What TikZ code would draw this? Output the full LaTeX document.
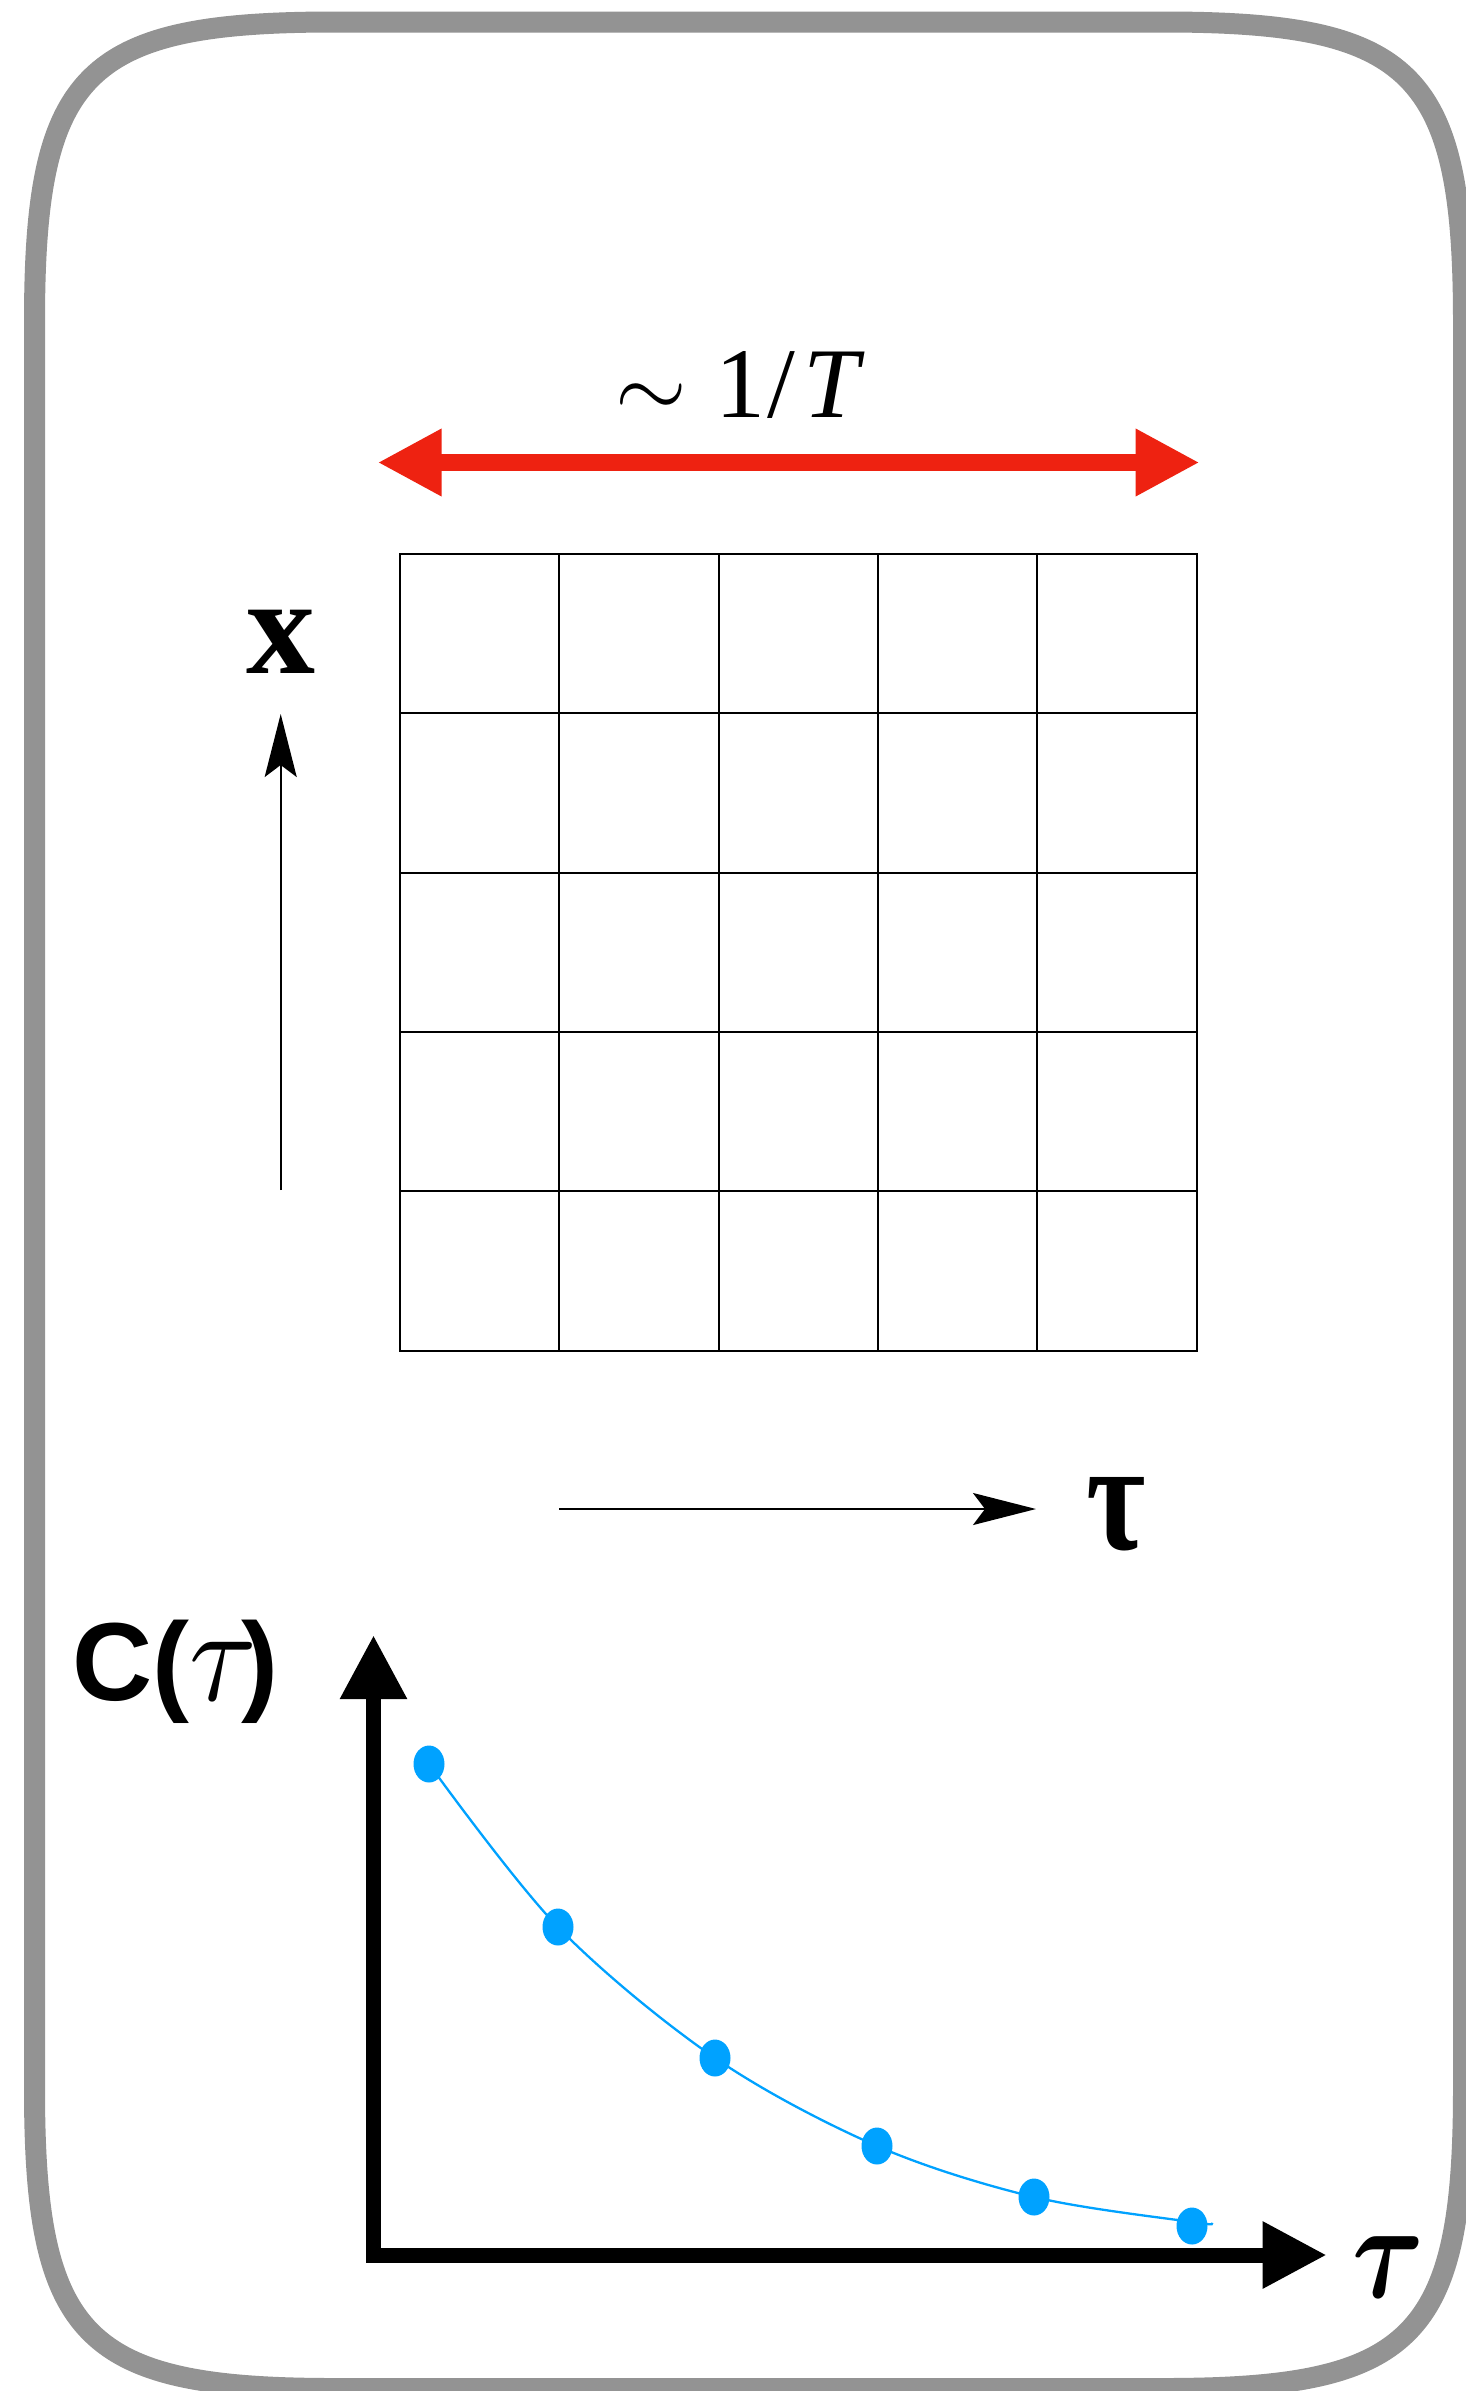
\documentclass[tikz,border=0pt]{standalone}
\usepackage{fontspec}
\setmainfont{Liberation Serif}
\newfontfamily\sansfam{Liberation Sans}
\usepackage{graphicx}
\usepackage{bm}
\usetikzlibrary{arrows.meta}
\definecolor{framegray}{HTML}{939393}
\definecolor{curveblue}{HTML}{00A2FF}
\definecolor{arrowred}{HTML}{EE2211}
\newcommand{\bigmath}[3]{\scalebox{#1}[#2]{\fontsize{10pt}{12pt}\selectfont$#3$}}
\begin{document}
\begin{tikzpicture}[x=1pt,y=-1pt,
  gridline/.style={line width=2pt, black, line cap=rect},
  thinarrow/.style={line width=2.2pt, black, -{Stealth[length=63pt,width=32pt,inset=12pt]}},
  axisline/.style={line width=15pt, black, -{Triangle[length=64pt,width=63pt]}},
  redarrow/.style={line width=16.4pt, arrowred, {Triangle[length=64pt,width=63pt]}-{Triangle[length=64pt,width=63pt]}},
  framebox/.style={line width=21pt, framegray},
  datadot/.style={fill=curveblue},
  lbl/.style={inner sep=0pt, outer sep=0pt}]
\useasboundingbox (0,0) rectangle (1466,2391);
\fill[white] (0,0) rectangle (1466,2391);
% frame
\def\Lf{34.5}\def\Tp{22}\def\Rt{1463.5}\def\Bt{2388.5}
\draw[framebox] (\Lf,\Tp+300) .. controls (\Lf,\Tp+50) and (\Lf+50,\Tp) .. (\Lf+300,\Tp)
  -- (\Rt-300,\Tp) .. controls (\Rt-50,\Tp) and (\Rt,\Tp+50) .. (\Rt,\Tp+300)
  -- (\Rt,\Bt-300) .. controls (\Rt,\Bt-50) and (\Rt-50,\Bt) .. (\Rt-300,\Bt)
  -- (\Lf+300,\Bt) .. controls (\Lf+50,\Bt) and (\Lf,\Bt-50) .. (\Lf,\Bt-300) -- cycle;
% red arrow and label
\coordinate (ra) at (377.6,462.5);
\coordinate (rb) at (1199.6,462.5);
\draw[redarrow] (ra) -- (rb);
\node[lbl, anchor=base west] (tlab) at (615.5,417)
  {\fontsize{100pt}{100pt}\selectfont\bigmath{9.2}{9.2}{\sim}\hspace{28pt}1\kern3pt/\kern8pt\textit{T}};
% grid
\foreach \i in {0,...,5} {
  \draw[gridline] (400+159.3*\i,554) -- (400+159.3*\i,1350.5);
  \draw[gridline] (400,554+159.3*\i) -- (1196.5,554+159.3*\i);
}
% x arrow
\coordinate (va) at (280.7,1190);
\coordinate (vb) at (280.7,714);
\draw[thinarrow] (va) -- (vb);
\node[lbl, anchor=base] (xlab) at (280.5,673) {\fontsize{138pt}{138pt}\selectfont\bfseries x};
% tau arrow
\coordinate (ha) at (559.4,1509);
\coordinate (hb) at (1036,1509);
\draw[thinarrow] (ha) -- (hb);
\node[lbl] (taulab) at (1116,1514) {\fontsize{157pt}{157pt}\selectfont\bfseries\scalebox{0.82}[1]{τ}};
% plot axes
\coordinate (o1) at (373.5,2255);
\coordinate (ytip) at (373.5,1635);
\coordinate (o2) at (366,2255);
\coordinate (xtip) at (1326.7,2255);
\draw[axisline] (o1) -- (ytip);
\draw[axisline] (o2) -- (xtip);
\node[lbl, anchor=base west] (clab) at (72.5,1700)
  {\sansfam\bfseries\fontsize{111pt}{111pt}\selectfont C(\bigmath{12.3}{13.5}{\tau}\kern-16pt)};
\node[lbl] (taulab2) at (1389,2267) {\bigmath{11}{13.7}{\bm{\tau}}};
% data
\coordinate (p1) at (429,1764);
\coordinate (p2) at (558,1927);
\coordinate (p3) at (715,2058);
\coordinate (p4) at (877,2146);
\coordinate (p5) at (1034,2197);
\coordinate (p6) at (1192,2226);
\coordinate (q6) at (1192,2222);
\coordinate (pend) at (1211,2223.5);
\draw[curveblue, line width=2.3pt] plot[smooth, tension=0.55] coordinates {(p1) (p2) (p3) (p4) (p5) (q6) (pend)};
\foreach \p in {p1,p2,p3,p4,p5,p6} {
  \fill[datadot] (\p) ellipse [x radius=15.5pt, y radius=18.5pt];
}
\end{tikzpicture}
\end{document}
